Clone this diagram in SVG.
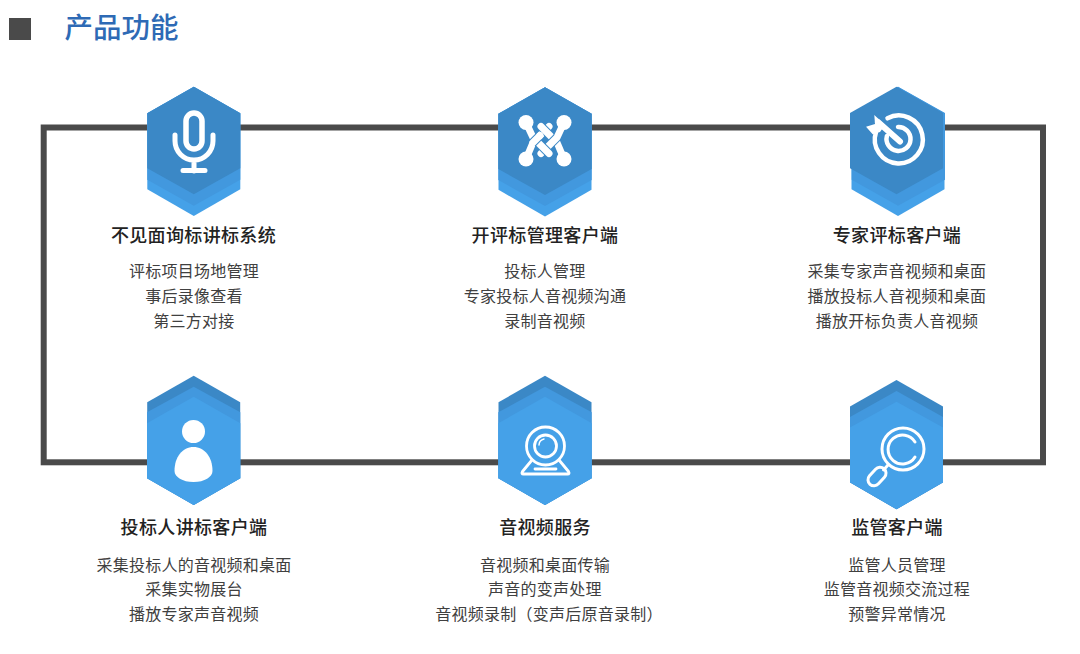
<svg xmlns="http://www.w3.org/2000/svg" width="1080" height="654" viewBox="0 0 1080 654">
<style>
text{font-family:"Noto Sans CJK SC","Liberation Sans",sans-serif;text-anchor:middle}
.h{font-size:18px;font-weight:500;fill:#222;letter-spacing:.35px}
.b{font-size:16px;fill:#404040;letter-spacing:.25px}
.d{fill:#3b88c6}.m{fill:#4298de}.l{fill:#45a1e8}
.si{fill:none;stroke:#fff;stroke-linecap:round;stroke-linejoin:round}
.u{fill:none;stroke:#3b88c6;stroke-width:9}
.w{fill:none;stroke:#fff;stroke-width:7;stroke-linejoin:round;stroke-linecap:round}
</style>
<defs>
<polygon id="hex" points="0,0 46.5,26.5 46.5,102.5 0,129.3 -46.5,102.5 -46.5,26.5"/>
</defs>
<rect width="1080" height="654" fill="#fff"/>
<g id="title">
<rect x="9" y="18" width="22" height="22" fill="#4a4a4a"/>
<text x="121.500" y="38" style="font-size:28.500px;font-weight:500;fill:#2e6ab5">产品功能</text>
</g>
<g id="connectors">
<rect x="43.700" y="127.500" width="999.300" height="334.800" fill="none" stroke="#4a4a4a" stroke-width="6"/>
</g>
<g id="node1">
<use href="#hex" x="193.800" y="86.700" class="l"/>
<polygon class="m" points="193.800,86.700 240.300,113.200 240.300,179.700 193.800,205.700 147.300,179.700 147.300,113.200"/>
<polygon class="d" points="193.800,86.700 240.300,113.200 240.300,168.300 193.800,194.300 147.300,168.300 147.300,113.200"/>
<g class="si">
<rect x="186" y="113" width="16" height="36" rx="8" stroke-width="5.500"/>
<path d="M175 135v6a19 19 0 0 0 38 0v-6M194 160v11M183 170.500h22" stroke-width="5"/>
</g>
<text class="h" x="193.500" y="242">不见面询标讲标系统</text>
<text class="b" x="194" y="277">评标项目场地管理</text>
<text class="b" x="194" y="302">事后录像查看</text>
<text class="b" x="194" y="327">第三方对接</text>
</g>
<g id="node2">
<use href="#hex" x="545" y="87.300" class="l"/>
<polygon class="m" points="545,87.300 591.700,113.800 591.700,180 545,206 498.300,180 498.300,113.800"/>
<polygon class="d" points="545,87.300 591.700,113.800 591.700,169 545,195 498.300,169 498.300,113.800"/>
<path class="u" d="M526 159L533 142.500L549 126.500"/><path class="w" d="M526 159L533 142.500L549 126.500"/>
<path class="u" d="M564 159L557 142.500L541 126.500"/><path class="w" d="M564 159L557 142.500L541 126.500"/>
<path class="u" d="M564 122.500L557 137.500L541 153.500"/><path class="w" d="M564 122.500L557 137.500L541 153.500"/>
<path class="u" d="M526 122.500L533 137.500L549 153.500"/><path class="w" d="M526 122.500L533 137.500L549 153.500"/>
<path class="u" d="M532.500 143L538.500 137"/><path class="w" d="M533 142.500L540 135.500"/>
<g fill="#fff"><circle cx="526" cy="122.500" r="7.500"/><circle cx="564" cy="122.500" r="7.500"/><circle cx="526" cy="159" r="7.500"/><circle cx="564" cy="159" r="7.500"/></g>
<text class="h" x="545" y="242">开评标管理客户端</text>
<text class="b" x="545" y="277">投标人管理</text>
<text class="b" x="545" y="302">专家投标人音视频沟通</text>
<text class="b" x="545" y="327">录制音视频</text>
</g>
<g id="node3">
<use href="#hex" x="898" y="86.700" class="l"/>
<polygon class="m" points="898,86.700 945,113 945,179.700 898,205.700 851.700,179.700 851.700,113"/>
<polygon class="d" points="896.500,86.700 943,113 943,168.300 896.500,194.300 850,168.300 850,113"/>
<g class="si">
<path d="M887.500 118.300A24 24 0 1 1 876 132" stroke-width="4.500"/>
<path d="M898 127A12 12 0 1 1 886.900 136" stroke-width="4.500"/>
<path d="M878 122L900 141.500" stroke-width="6"/>
</g>
<polygon fill="#fff" points="874.300,115 885,125 880,132 872.700,134.300 866,126.700 875,124"/>
<text class="h" x="897" y="242">专家评标客户端</text>
<text class="b" x="897" y="277">采集专家声音视频和桌面</text>
<text class="b" x="897" y="302">播放投标人音视频和桌面</text>
<text class="b" x="897" y="327">播放开标负责人音视频</text>
</g>
<g id="node4">
<use href="#hex" x="193.700" y="375.700" class="d"/>
<polygon class="m" points="193.700,386.700 240.300,412.300 240.300,478.300 193.700,505 147,478.300 147,412.300"/>
<polygon class="l" points="193.700,396.700 240.300,423.300 240.300,478.300 193.700,505 147,478.300 147,423.300"/>
<g fill="#fff">
<circle cx="193.500" cy="431.500" r="11.500"/>
<path d="M193.500 447c-11 0-19 10-19 24 0 6 8 11 19 11s19-5 19-11c0-14-8-24-19-24z"/>
</g>
<text class="h" x="194" y="534">投标人讲标客户端</text>
<text class="b" x="194" y="571">采集投标人的音视频和桌面</text>
<text class="b" x="194" y="595">采集实物展台</text>
<text class="b" x="194" y="620">播放专家声音视频</text>
</g>
<g id="node5">
<use href="#hex" x="545" y="375.700" class="d"/>
<polygon class="m" points="545,386.700 591.700,412.300 591.700,478.300 545,505 498.300,478.300 498.300,412.300"/>
<polygon class="l" points="545,396.700 591.700,423.300 591.700,478.300 545,505 498.300,478.300 498.300,423.300"/>
<g class="si">
<circle cx="545.500" cy="446" r="19" stroke-width="2.800"/>
<circle cx="545.500" cy="446" r="11" stroke-width="2.800"/>
<path d="M539 445a6.500 6.500 0 0 1 5-6" stroke-width="1.500"/>
<path d="M532 460l-9.500 11.500q-1.500 2.500 1 2.500h44q2.500 0 1-2.500l-9.500-11.500M535 469h21" stroke-width="2.800"/>
</g>
<text class="h" x="545" y="534">音视频服务</text>
<text class="b" x="545" y="571">音视频和桌面传输</text>
<text class="b" x="545" y="595">声音的变声处理</text>
<text class="b" x="549" y="620">音视频录制（变声后原音录制）</text>
</g>
<g id="node6">
<use href="#hex" x="896.500" y="380" class="d"/>
<polygon class="m" points="896.500,391 943,417 943,482.300 896.500,509.300 850,482.300 850,417"/>
<polygon class="l" points="896.500,401.700 943,427.500 943,482.300 896.500,509.300 850,482.300 850,427.500"/>
<g class="si">
<circle cx="903" cy="449" r="21" stroke-width="3"/>
<path d="M915 442a14.500 14.500 0 1 0 0 15" stroke-width="3"/>
<path d="M888 465l-4.500 5" stroke-width="3"/>
<rect x="-6" y="-10.500" width="12" height="21" rx="6" transform="translate(877 476.500) rotate(42)" stroke-width="3"/>
</g>
<text class="h" x="897" y="534">监管客户端</text>
<text class="b" x="897" y="571">监管人员管理</text>
<text class="b" x="897" y="595">监管音视频交流过程</text>
<text class="b" x="897" y="620">预警异常情况</text>
</g>
</svg>
